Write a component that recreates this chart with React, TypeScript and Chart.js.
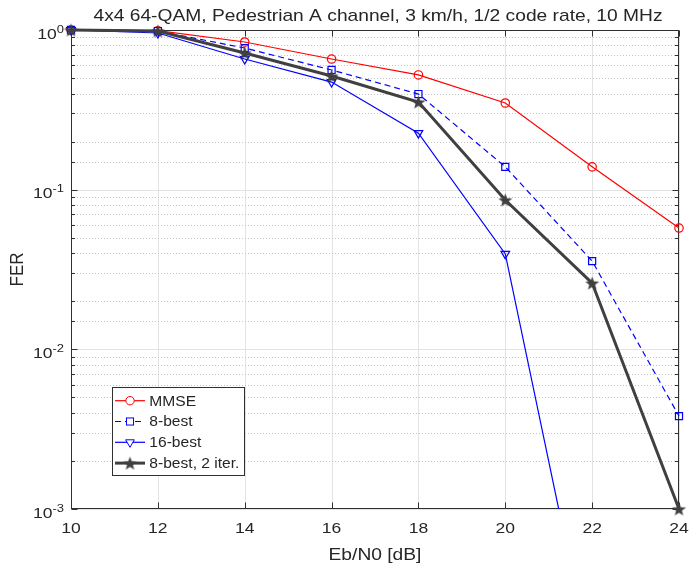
import React, { useEffect, useRef } from "react";
import { Chart, registerables } from "chart.js";

Chart.register(...registerables);

// ---- data ----
const EBN0 = [10, 12, 14, 16, 18, 20, 22, 24];
const FER_MMSE = [1.0, 0.99, 0.841, 0.658, 0.523, 0.349, 0.139, 0.0575];
const FER_8BEST = [1.0, 0.985, 0.771, 0.562, 0.397, 0.139, 0.0357, 0.00382];
const FER_16BEST = [1.0, 0.958, 0.658, 0.472, 0.226, 0.0396, 0.0001];
const FER_8BEST_2IT = [1.0, 0.986, 0.718, 0.515, 0.354, 0.0862, 0.026, 0.001];
const X_TICKS = [10, 12, 14, 16, 18, 20, 22, 24];
const TITLE = "4x4 64-QAM, Pedestrian A channel, 3 km/h, 1/2 code rate, 10 MHz";
const X_LABEL = "Eb/N0 [dB]";
const Y_LABEL = "FER";
const LEGEND_LABELS = ["MMSE", "8-best", "16-best", "8-best, 2 iter."];

const FONT = '"Liberation Sans", Arial, Helvetica, sans-serif';
const TEXT = "#262626";
const SX = 1.13;

function makeStar(size: number, color: string) {
  const c = document.createElement("canvas");
  c.width = size;
  c.height = size;
  const ctx = c.getContext("2d")!;
  const cx = size / 2, cy = size / 2 + 0.7, R = size / 2 - 0.2, r = R * 0.42;
  ctx.beginPath();
  for (let i = 0; i < 10; i++) {
    const a = -Math.PI / 2 + (i * Math.PI) / 5;
    const rad = i % 2 === 0 ? R : r;
    const px = cx + Math.cos(a) * rad, py = cy + Math.sin(a) * rad;
    if (i === 0) ctx.moveTo(px, py); else ctx.lineTo(px, py);
  }
  ctx.closePath();
  ctx.fillStyle = color;
  ctx.fill();
  return c;
}

function txt(ctx: CanvasRenderingContext2D, s: string, x: number, y: number, size: number, align: CanvasTextAlign, sx = SX) {
  ctx.save();
  ctx.font = `${size}px ${FONT}`;
  ctx.fillStyle = TEXT;
  ctx.translate(x, y);
  ctx.scale(sx, 1);
  ctx.textAlign = align;
  ctx.textBaseline = "alphabetic";
  ctx.fillText(s, 0, 0);
  ctx.restore();
}

export default function App() {
  const ref = useRef<HTMLCanvasElement>(null);
  useEffect(() => {
    const star = makeStar(15, "#404040");
    const pts = (ys: number[]) => ys.map((y, i) => ({ x: EBN0[i], y }));

    const decoration = {
      id: "matlabDecor",
      beforeDatasetsDraw(chart: any) {
        const { ctx, chartArea: a } = chart;
        const xs = chart.scales.x, ys = chart.scales.y;
        ctx.save();
        ctx.strokeStyle = "#e3e3e3";
        ctx.lineWidth = 1;
        xs.ticks.forEach((t: any) => {
          const px = Math.round(xs.getPixelForValue(t.value)) + 0.5;
          ctx.beginPath();
          ctx.moveTo(px, a.top);
          ctx.lineTo(px, a.bottom);
          ctx.stroke();
        });
        ys.ticks.forEach((t: any) => {
          const lg = Math.log10(t.value);
          const major = Math.abs(lg - Math.round(lg)) < 1e-6;
          const py = Math.round(ys.getPixelForValue(t.value)) + 0.5;
          ctx.beginPath();
          if (major) {
            ctx.setLineDash([]);
            ctx.strokeStyle = "#e3e3e3";
          } else {
            ctx.setLineDash([1, 2]);
            ctx.strokeStyle = "#c4c4c4";
          }
          ctx.moveTo(a.left, py);
          ctx.lineTo(a.right, py);
          ctx.stroke();
        });
        ctx.setLineDash([]);
        ctx.strokeStyle = "#303030";
        ctx.lineWidth = 1;
        const L = Math.round(a.left) + 0.5, R = Math.round(a.right) - 0.5;
        const T = Math.round(a.top) + 0.5, B = Math.round(a.bottom) - 0.5;
        ctx.strokeRect(L, T, R - L, B - T);
        ctx.beginPath();
        xs.ticks.forEach((t: any) => {
          const px = Math.round(xs.getPixelForValue(t.value)) + 0.5;
          ctx.moveTo(px, B); ctx.lineTo(px, B - 6);
          ctx.moveTo(px, T); ctx.lineTo(px, T + 6);
        });
        ys.ticks.forEach((t: any) => {
          const lg = Math.log10(t.value);
          const major = Math.abs(lg - Math.round(lg)) < 1e-6;
          const len = major ? 6 : 3.5;
          const py = Math.round(ys.getPixelForValue(t.value)) + 0.5;
          ctx.moveTo(L, py); ctx.lineTo(L + len, py);
          ctx.moveTo(R, py); ctx.lineTo(R - len, py);
        });
        ctx.stroke();
        ctx.restore();
      },
      afterDraw(chart: any) {
        const { ctx, chartArea: a } = chart;
        const xs = chart.scales.x, ys = chart.scales.y;
        txt(ctx, TITLE, (a.left + a.right) / 2 + 3, 21, 17, "center");
        xs.ticks.forEach((t: any) => {
          txt(ctx, String(t.value), xs.getPixelForValue(t.value), a.bottom + 24, 15.5, "center");
        });
        txt(ctx, X_LABEL, (a.left + a.right) / 2, a.bottom + 51, 17, "center");
        ctx.save();
        ctx.translate(23.3, (a.top + a.bottom) / 2);
        ctx.rotate(-Math.PI / 2);
        ctx.scale(1, SX);
        ctx.font = `17px ${FONT}`;
        ctx.fillStyle = TEXT;
        ctx.textAlign = "center";
        ctx.textBaseline = "alphabetic";
        ctx.fillText(Y_LABEL, 0, 0);
        ctx.restore();
        ys.ticks.forEach((t: any) => {
          const lg = Math.log10(t.value);
          if (Math.abs(lg - Math.round(lg)) > 1e-6) return;
          const e = String(Math.round(lg));
          const py = ys.getPixelForValue(t.value);
          ctx.save();
          ctx.font = `11.5px ${FONT}`;
          const ew = ctx.measureText(e).width * SX;
          ctx.restore();
          const right = 64;
          txt(ctx, e, right - ew, py + 2.7, 11.5, "left");
          txt(ctx, "10", right - ew, py + 8.5, 15.5, "right");
        });
        // legend
        const lx = 112, ly = 387, lw = 132, lh = 88;
        ctx.save();
        ctx.fillStyle = "#ffffff";
        ctx.fillRect(lx, ly, lw, lh);
        ctx.strokeStyle = "#303030";
        ctx.lineWidth = 1;
        ctx.strokeRect(lx + 0.5, ly + 0.5, lw, lh);
        ctx.restore();
        [0, 1, 2, 3].forEach((di, i) => {
          const ds = chart.data.datasets[di];
          const cy = 400.7 + i * 20.8;
          ctx.save();
          ctx.strokeStyle = ds.borderColor;
          ctx.lineWidth = ds.borderWidth;
          ctx.setLineDash(ds.borderDash || []);
          ctx.beginPath();
          ctx.moveTo(115, cy);
          ctx.lineTo(145, cy);
          ctx.stroke();
          ctx.setLineDash([]);
          ctx.lineWidth = 1;
          const mx = 130;
          if (ds.pointStyle === "circle") {
            ctx.fillStyle = "#fff";
            ctx.beginPath();
            ctx.arc(mx, cy, ds.pointRadius, 0, Math.PI * 2);
            ctx.fill();
            ctx.stroke();
          } else if (ds.pointStyle === "rect") {
            const s = Math.SQRT1_2 * ds.pointRadius;
            ctx.fillStyle = "#fff";
            ctx.fillRect(mx - s, cy - s, 2 * s, 2 * s);
            ctx.strokeRect(mx - s, cy - s, 2 * s, 2 * s);
          } else if (ds.pointStyle === "triangle") {
            const r = ds.pointRadius;
            ctx.fillStyle = "#fff";
            ctx.beginPath();
            for (let k = 0; k < 3; k++) {
              const ang = Math.PI + (k * 2 * Math.PI) / 3;
              const px = mx + Math.sin(ang) * r, py = cy - Math.cos(ang) * r;
              if (k === 0) ctx.moveTo(px, py); else ctx.lineTo(px, py);
            }
            ctx.closePath();
            ctx.fill();
            ctx.stroke();
          } else {
            ctx.drawImage(star, mx - star.width / 2, cy - star.height / 2);
          }
          ctx.restore();
          txt(ctx, LEGEND_LABELS[i], 149.3, cy + 4.9, 13.8, "left");
        });
      },
    };

    const chart = new Chart(ref.current!, {
      type: "line",
      data: {
        datasets: [
          {
            label: LEGEND_LABELS[0],
            data: pts(FER_MMSE),
            borderColor: "#ff0000",
            borderWidth: 1.2,
            pointStyle: "circle",
            pointRadius: 4.2,
            pointBorderWidth: 1.2,
            pointBorderColor: "#ff0000",
            pointBackgroundColor: "rgba(0,0,0,0)",
            clip: false as any,
            order: 4,
          },
          {
            label: LEGEND_LABELS[1],
            data: pts(FER_8BEST),
            borderColor: "#0000ff",
            borderWidth: 1.2,
            borderDash: [6, 4],
            pointStyle: "rect",
            pointRadius: 5,
            pointBorderWidth: 1.2,
            pointBorderColor: "#0000ff",
            pointBackgroundColor: "rgba(0,0,0,0)",
            clip: false as any,
            order: 3,
          },
          {
            label: LEGEND_LABELS[2],
            data: pts(FER_16BEST),
            borderColor: "#0000ff",
            borderWidth: 1.2,
            pointStyle: "triangle",
            rotation: 180,
            pointRadius: 5,
            pointBorderWidth: 1.2,
            pointBorderColor: "#0000ff",
            pointBackgroundColor: "rgba(0,0,0,0)",
            clip: { left: 8, right: 8, top: 8, bottom: 0 } as any,
            order: 2,
          },
          {
            label: LEGEND_LABELS[3],
            data: pts(FER_8BEST_2IT),
            borderColor: "#404040",
            borderWidth: 3,
            pointStyle: star as any,
            pointRadius: 7,
            pointBackgroundColor: "#404040",
            pointBorderColor: "#404040",
            clip: false as any,
            order: 1,
          },
        ] as any,
      },
      options: {
        animation: false,
        responsive: false,
        events: [],
        layout: { padding: { left: 0, right: 12, top: 30, bottom: 0 } },
        elements: { line: { tension: 0 } },
        plugins: {
          legend: { display: false },
          title: { display: false },
          tooltip: { enabled: false },
        },
        scales: {
          x: {
            type: "linear",
            min: 10,
            max: 24,
            afterBuildTicks: (s: any) => {
              s.ticks = X_TICKS.map((v) => ({ value: v }));
            },
            ticks: { display: false },
            grid: { display: false },
            border: { display: false },
            afterFit: (s: any) => {
              s.height = 59;
            },
          },
          y: {
            type: "logarithmic",
            min: 0.001,
            max: 1,
            ticks: { display: false },
            grid: { display: false },
            border: { display: false },
            afterFit: (s: any) => {
              s.width = 71;
            },
          },
        },
      } as any,
      plugins: [decoration],
    });
    return () => chart.destroy();
  }, []);

  return (
    <div style={{ position: "absolute", left: 0, top: 0, width: 691, height: 568, background: "#fff" }}>
      <canvas ref={ref} width={691} height={568} style={{ width: 691, height: 568, display: "block" }} />
    </div>
  );
}
